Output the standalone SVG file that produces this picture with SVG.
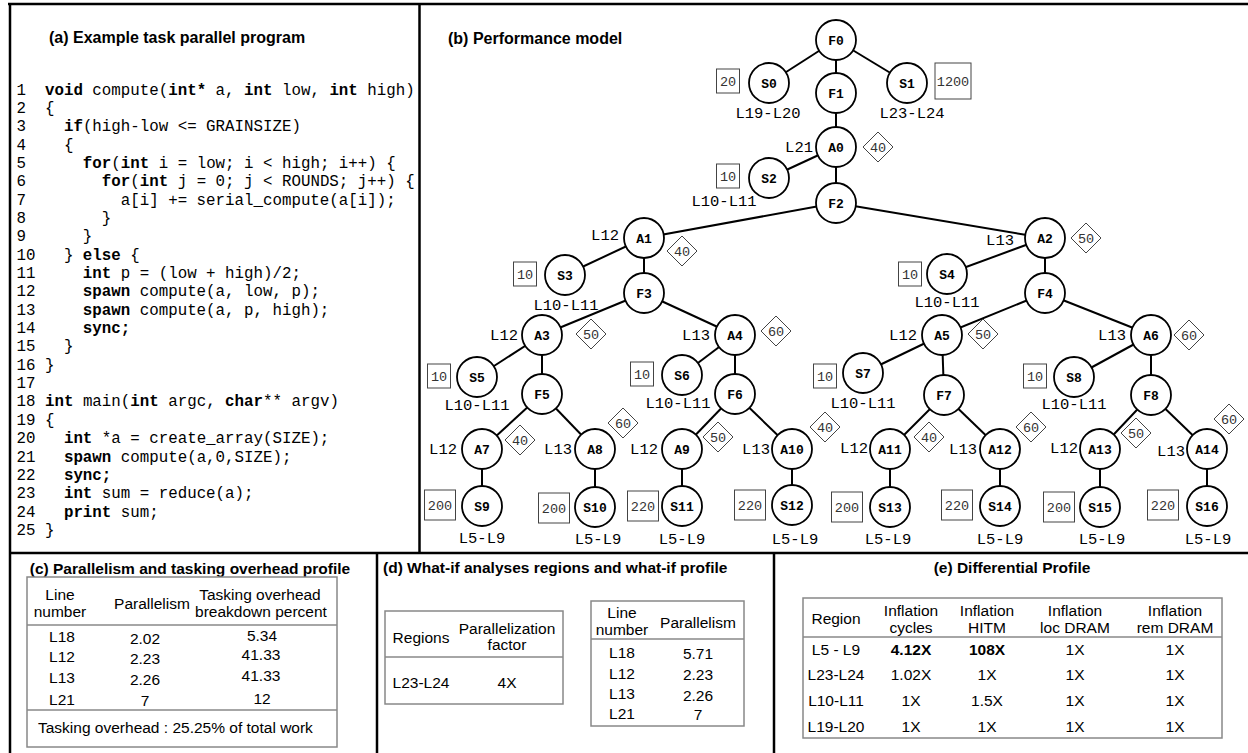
<svg xmlns="http://www.w3.org/2000/svg" width="1248" height="753" viewBox="0 0 1248 753">
<style>
.frame{stroke:#000;stroke-width:2.5;fill:none}
.edge{stroke:#000;stroke-width:2}
.node circle{fill:#fff;stroke:#000;stroke-width:1.8}
.nl{font-family:"Liberation Mono",monospace;font-weight:bold;font-size:13px;text-anchor:middle}
.lbl{font-family:"Liberation Mono",monospace;font-size:15.5px}
.c{text-anchor:middle}
.e{text-anchor:end}
.box{fill:#fff;stroke:#444;stroke-width:1}
.num{font-family:"Liberation Mono",monospace;font-size:13.5px;fill:#333;text-anchor:middle}
.title{font-family:"Liberation Sans",Arial,sans-serif;font-weight:bold;font-size:16px}
.st{font-family:"Liberation Sans",Arial,sans-serif;font-weight:bold;font-size:15.5px}
.code text{font-family:"Liberation Mono",monospace;font-size:15.8px;white-space:pre}
.k{font-weight:bold}
.tbl{fill:none;stroke:#888;stroke-width:1.5}
.tt{font-family:"Liberation Sans",Arial,sans-serif;font-size:15.5px;text-anchor:middle}
.tl{font-family:"Liberation Sans",Arial,sans-serif;font-size:15.5px;text-anchor:start}
</style>
<rect width="1248" height="753" fill="#fff"/>
<g id="frames">
<line class="frame" x1="8" y1="4" x2="1248" y2="4"/>
<line class="frame" x1="10" y1="3" x2="10" y2="753"/>
<line class="frame" x1="419.5" y1="4" x2="419.5" y2="553"/>
<line class="frame" x1="10" y1="553" x2="1248" y2="553"/>
<line class="frame" x1="377" y1="553" x2="377" y2="753"/>
<line class="frame" x1="774" y1="553" x2="774" y2="753"/>
</g>
<g id="panel-a">
<text class="title" x="49" y="43">(a) Example task parallel program</text>
<g class="code">
<text xml:space="preserve" x="16.5" y="94.5">1  <tspan class="k">void</tspan> compute(<tspan class="k">int*</tspan> a, <tspan class="k">int</tspan> low, <tspan class="k">int</tspan> high)</text>
<text xml:space="preserve" x="16.5" y="112.85">2  {</text>
<text xml:space="preserve" x="16.5" y="131.2">3    <tspan class="k">if</tspan>(high-low &lt;= GRAINSIZE)</text>
<text xml:space="preserve" x="16.5" y="149.55">4    {</text>
<text xml:space="preserve" x="16.5" y="167.9">5      <tspan class="k">for</tspan>(<tspan class="k">int</tspan> i = low; i &lt; high; i++) {</text>
<text xml:space="preserve" x="16.5" y="186.25">6        <tspan class="k">for</tspan>(<tspan class="k">int</tspan> j = 0; j &lt; ROUNDS; j++) {</text>
<text xml:space="preserve" x="16.5" y="204.6">7          a[i] += serial_compute(a[i]);</text>
<text xml:space="preserve" x="16.5" y="222.95">8        }</text>
<text xml:space="preserve" x="16.5" y="241.3">9      }</text>
<text xml:space="preserve" x="16.5" y="259.65">10   } <tspan class="k">else</tspan> {</text>
<text xml:space="preserve" x="16.5" y="278">11     <tspan class="k">int</tspan> p = (low + high)/2;</text>
<text xml:space="preserve" x="16.5" y="296.35">12     <tspan class="k">spawn</tspan> compute(a, low, p);</text>
<text xml:space="preserve" x="16.5" y="314.7">13     <tspan class="k">spawn</tspan> compute(a, p, high);</text>
<text xml:space="preserve" x="16.5" y="333.05">14     <tspan class="k">sync;</tspan></text>
<text xml:space="preserve" x="16.5" y="351.4">15   }</text>
<text xml:space="preserve" x="16.5" y="369.75">16 }</text>
<text xml:space="preserve" x="16.5" y="388.1">17</text>
<text xml:space="preserve" x="16.5" y="406.45">18 <tspan class="k">int</tspan> main(<tspan class="k">int</tspan> argc, <tspan class="k">char</tspan>** argv)</text>
<text xml:space="preserve" x="16.5" y="424.8">19 {</text>
<text xml:space="preserve" x="16.5" y="443.15">20   <tspan class="k">int</tspan> *a = create_array(SIZE);</text>
<text xml:space="preserve" x="16.5" y="461.5">21   <tspan class="k">spawn</tspan> compute(a,0,SIZE);</text>
<text xml:space="preserve" x="16.5" y="479.85">22   <tspan class="k">sync;</tspan></text>
<text xml:space="preserve" x="16.5" y="498.2">23   <tspan class="k">int</tspan> sum = reduce(a);</text>
<text xml:space="preserve" x="16.5" y="516.55">24   <tspan class="k">print</tspan> sum;</text>
<text xml:space="preserve" x="16.5" y="534.9">25 }</text>
</g>
</g>
<text class="title" x="448" y="44">(b) Performance model</text>
<g id="connectors">
<line class="edge" x1="836" y1="40" x2="769" y2="83"/>
<line class="edge" x1="836" y1="40" x2="836" y2="93"/>
<line class="edge" x1="836" y1="40" x2="907" y2="83"/>
<line class="edge" x1="836" y1="93" x2="836" y2="147"/>
<line class="edge" x1="836" y1="147" x2="769" y2="178"/>
<line class="edge" x1="836" y1="147" x2="836" y2="203"/>
<line class="edge" x1="836" y1="203" x2="644" y2="238"/>
<line class="edge" x1="836" y1="203" x2="1045" y2="238"/>
<line class="edge" x1="644" y1="238" x2="565" y2="275"/>
<line class="edge" x1="644" y1="238" x2="644" y2="293"/>
<line class="edge" x1="644" y1="293" x2="542" y2="335"/>
<line class="edge" x1="644" y1="293" x2="735" y2="335"/>
<line class="edge" x1="542" y1="335" x2="477" y2="377"/>
<line class="edge" x1="542" y1="335" x2="542" y2="394"/>
<line class="edge" x1="735" y1="335" x2="682" y2="375"/>
<line class="edge" x1="735" y1="335" x2="735" y2="394"/>
<line class="edge" x1="542" y1="394" x2="482" y2="449"/>
<line class="edge" x1="542" y1="394" x2="595" y2="449"/>
<line class="edge" x1="735" y1="394" x2="682" y2="449"/>
<line class="edge" x1="735" y1="394" x2="792" y2="449"/>
<line class="edge" x1="482" y1="449" x2="482" y2="506"/>
<line class="edge" x1="595" y1="449" x2="595" y2="507"/>
<line class="edge" x1="682" y1="449" x2="682" y2="506"/>
<line class="edge" x1="792" y1="449" x2="792" y2="505"/>
<line class="edge" x1="1045" y1="238" x2="947" y2="274"/>
<line class="edge" x1="1045" y1="238" x2="1045" y2="293"/>
<line class="edge" x1="1045" y1="293" x2="942" y2="335"/>
<line class="edge" x1="1045" y1="293" x2="1151" y2="335"/>
<line class="edge" x1="942" y1="335" x2="863" y2="373"/>
<line class="edge" x1="942" y1="335" x2="944" y2="395"/>
<line class="edge" x1="1151" y1="335" x2="1074" y2="377"/>
<line class="edge" x1="1151" y1="335" x2="1151" y2="395"/>
<line class="edge" x1="944" y1="395" x2="890" y2="449"/>
<line class="edge" x1="944" y1="395" x2="1000" y2="449"/>
<line class="edge" x1="1151" y1="395" x2="1100" y2="449"/>
<line class="edge" x1="1151" y1="395" x2="1207" y2="449"/>
<line class="edge" x1="890" y1="449" x2="890" y2="507"/>
<line class="edge" x1="1000" y1="449" x2="1000" y2="506"/>
<line class="edge" x1="1100" y1="449" x2="1100" y2="507"/>
<line class="edge" x1="1207" y1="449" x2="1207" y2="506"/>
</g>
<g id="F0" class="node"><circle cx="836" cy="40" r="20"/><text class="nl" x="836" y="44.5">F0</text></g>
<g id="S0" class="node"><circle cx="769" cy="83" r="20"/><text class="nl" x="769" y="87.5">S0</text><rect class="box" x="716.5" y="69" width="23" height="24"/><text class="num" x="728" y="85.5">20</text><text class="lbl c" x="768" y="117.5">L19-L20</text></g>
<g id="F1" class="node"><circle cx="836" cy="93" r="20"/><text class="nl" x="836" y="97.5">F1</text></g>
<g id="S1" class="node"><circle cx="907" cy="83" r="20"/><text class="nl" x="907" y="87.5">S1</text><rect class="box" x="935" y="63" width="36" height="36"/><text class="num" x="953" y="85.5">1200</text><text class="lbl c" x="912" y="117.5">L23-L24</text></g>
<g id="A0" class="node"><circle cx="836" cy="147" r="20"/><text class="nl" x="836" y="151.5">A0</text><text class="lbl e" x="813" y="152">L21</text><polygon class="box" points="878,132 893,147 878,162 863,147"/><text class="num" x="878" y="151.5">40</text></g>
<g id="S2" class="node"><circle cx="769" cy="178" r="20"/><text class="nl" x="769" y="182.5">S2</text><rect class="box" x="716.5" y="164" width="23" height="24"/><text class="num" x="728" y="180.5">10</text><text class="lbl c" x="724" y="205.5">L10-L11</text></g>
<g id="F2" class="node"><circle cx="836" cy="203" r="20"/><text class="nl" x="836" y="207.5">F2</text></g>
<g id="A1" class="node"><circle cx="644" cy="238" r="20"/><text class="nl" x="644" y="242.5">A1</text><text class="lbl e" x="619" y="240">L12</text><polygon class="box" points="682,236 697,251 682,266 667,251"/><text class="num" x="682" y="255.5">40</text></g>
<g id="A2" class="node"><circle cx="1045" cy="238" r="20"/><text class="nl" x="1045" y="242.5">A2</text><text class="lbl e" x="1014" y="245">L13</text><polygon class="box" points="1086,223 1101,238 1086,253 1071,238"/><text class="num" x="1086" y="242.5">50</text></g>
<g id="S3" class="node"><circle cx="565" cy="275" r="20"/><text class="nl" x="565" y="279.5">S3</text><rect class="box" x="513.5" y="262" width="23" height="24"/><text class="num" x="525" y="278.5">10</text><text class="lbl c" x="566" y="309.5">L10-L11</text></g>
<g id="F3" class="node"><circle cx="644" cy="293" r="20"/><text class="nl" x="644" y="297.5">F3</text></g>
<g id="S4" class="node"><circle cx="947" cy="274" r="20"/><text class="nl" x="947" y="278.5">S4</text><rect class="box" x="898.5" y="262" width="23" height="24"/><text class="num" x="910" y="278.5">10</text><text class="lbl c" x="947" y="306.5">L10-L11</text></g>
<g id="F4" class="node"><circle cx="1045" cy="293" r="20"/><text class="nl" x="1045" y="297.5">F4</text></g>
<g id="A3" class="node"><circle cx="542" cy="335" r="20"/><text class="nl" x="542" y="339.5">A3</text><text class="lbl e" x="518" y="339.5">L12</text><polygon class="box" points="591,319 606,334 591,349 576,334"/><text class="num" x="591" y="338.5">50</text></g>
<g id="A4" class="node"><circle cx="735" cy="335" r="20"/><text class="nl" x="735" y="339.5">A4</text><text class="lbl e" x="710" y="340">L13</text><polygon class="box" points="776,316 791,331 776,346 761,331"/><text class="num" x="776" y="335.5">60</text></g>
<g id="A5" class="node"><circle cx="942" cy="335" r="20"/><text class="nl" x="942" y="339.5">A5</text><text class="lbl e" x="917" y="340">L12</text><polygon class="box" points="983,319 998,334 983,349 968,334"/><text class="num" x="983" y="338.5">50</text></g>
<g id="A6" class="node"><circle cx="1151" cy="335" r="20"/><text class="nl" x="1151" y="339.5">A6</text><text class="lbl e" x="1126" y="340">L13</text><polygon class="box" points="1189,320 1204,335 1189,350 1174,335"/><text class="num" x="1189" y="339.5">60</text></g>
<g id="S5" class="node"><circle cx="477" cy="377" r="20"/><text class="nl" x="477" y="381.5">S5</text><rect class="box" x="427.5" y="364" width="23" height="24"/><text class="num" x="439" y="380.5">10</text><text class="lbl c" x="477" y="409.5">L10-L11</text></g>
<g id="F5" class="node"><circle cx="542" cy="394" r="20"/><text class="nl" x="542" y="398.5">F5</text></g>
<g id="S6" class="node"><circle cx="682" cy="375" r="20"/><text class="nl" x="682" y="379.5">S6</text><rect class="box" x="630.5" y="362" width="23" height="24"/><text class="num" x="642" y="378.5">10</text><text class="lbl c" x="678" y="407.5">L10-L11</text></g>
<g id="F6" class="node"><circle cx="735" cy="394" r="20"/><text class="nl" x="735" y="398.5">F6</text></g>
<g id="S7" class="node"><circle cx="863" cy="373" r="20"/><text class="nl" x="863" y="377.5">S7</text><rect class="box" x="813.5" y="364" width="23" height="24"/><text class="num" x="825" y="380.5">10</text><text class="lbl c" x="863" y="407.5">L10-L11</text></g>
<g id="F7" class="node"><circle cx="944" cy="395" r="20"/><text class="nl" x="944" y="399.5">F7</text></g>
<g id="S8" class="node"><circle cx="1074" cy="377" r="20"/><text class="nl" x="1074" y="381.5">S8</text><rect class="box" x="1023.5" y="364" width="23" height="24"/><text class="num" x="1035" y="380.5">10</text><text class="lbl c" x="1074" y="408.5">L10-L11</text></g>
<g id="F8" class="node"><circle cx="1151" cy="395" r="20"/><text class="nl" x="1151" y="399.5">F8</text></g>
<g id="A7" class="node"><circle cx="482" cy="449" r="20"/><text class="nl" x="482" y="453.5">A7</text><text class="lbl e" x="457" y="454">L12</text><polygon class="box" points="520,425 535,440 520,455 505,440"/><text class="num" x="520" y="444.5">40</text></g>
<g id="A8" class="node"><circle cx="595" cy="449" r="20"/><text class="nl" x="595" y="453.5">A8</text><text class="lbl e" x="572" y="454">L13</text><polygon class="box" points="623,408 638,423 623,438 608,423"/><text class="num" x="623" y="427.5">60</text></g>
<g id="A9" class="node"><circle cx="682" cy="449" r="20"/><text class="nl" x="682" y="453.5">A9</text><text class="lbl e" x="658" y="454">L12</text><polygon class="box" points="718,422 733,437 718,452 703,437"/><text class="num" x="718" y="441.5">50</text></g>
<g id="A10" class="node"><circle cx="792" cy="449" r="20"/><text class="nl" x="792" y="453.5">A10</text><text class="lbl e" x="770" y="454">L13</text><polygon class="box" points="825,412 840,427 825,442 810,427"/><text class="num" x="825" y="431.5">40</text></g>
<g id="A11" class="node"><circle cx="890" cy="449" r="20"/><text class="nl" x="890" y="453.5">A11</text><text class="lbl e" x="868" y="453">L12</text><polygon class="box" points="929,422 944,437 929,452 914,437"/><text class="num" x="929" y="441.5">40</text></g>
<g id="A12" class="node"><circle cx="1000" cy="449" r="20"/><text class="nl" x="1000" y="453.5">A12</text><text class="lbl e" x="977" y="454">L13</text><polygon class="box" points="1031,412 1046,427 1031,442 1016,427"/><text class="num" x="1031" y="431.5">60</text></g>
<g id="A13" class="node"><circle cx="1100" cy="449" r="20"/><text class="nl" x="1100" y="453.5">A13</text><text class="lbl e" x="1078" y="453">L12</text><polygon class="box" points="1136,418 1151,433 1136,448 1121,433"/><text class="num" x="1136" y="437.5">50</text></g>
<g id="A14" class="node"><circle cx="1207" cy="449" r="20"/><text class="nl" x="1207" y="453.5">A14</text><text class="lbl e" x="1185" y="456">L13</text><polygon class="box" points="1229,404 1244,419 1229,434 1214,419"/><text class="num" x="1229" y="423.5">60</text></g>
<g id="S9" class="node"><circle cx="482" cy="506" r="20"/><text class="nl" x="482" y="510.5">S9</text><rect class="box" x="424.5" y="490" width="31" height="30"/><text class="num" x="440" y="509.5">200</text><text class="lbl c" x="482" y="542.5">L5-L9</text></g>
<g id="S10" class="node"><circle cx="595" cy="507" r="20"/><text class="nl" x="595" y="511.5">S10</text><rect class="box" x="538.5" y="493" width="31" height="30"/><text class="num" x="554" y="512.5">200</text><text class="lbl c" x="598" y="543.5">L5-L9</text></g>
<g id="S11" class="node"><circle cx="682" cy="506" r="20"/><text class="nl" x="682" y="510.5">S11</text><rect class="box" x="627.5" y="491" width="31" height="30"/><text class="num" x="643" y="510.5">220</text><text class="lbl c" x="682" y="543.5">L5-L9</text></g>
<g id="S12" class="node"><circle cx="792" cy="505" r="20"/><text class="nl" x="792" y="509.5">S12</text><rect class="box" x="734.5" y="490" width="31" height="30"/><text class="num" x="750" y="509.5">220</text><text class="lbl c" x="795" y="543.5">L5-L9</text></g>
<g id="S13" class="node"><circle cx="890" cy="507" r="20"/><text class="nl" x="890" y="511.5">S13</text><rect class="box" x="831.5" y="492" width="31" height="30"/><text class="num" x="847" y="511.5">200</text><text class="lbl c" x="888" y="543.5">L5-L9</text></g>
<g id="S14" class="node"><circle cx="1000" cy="506" r="20"/><text class="nl" x="1000" y="510.5">S14</text><rect class="box" x="941.5" y="490" width="31" height="30"/><text class="num" x="957" y="509.5">220</text><text class="lbl c" x="1000" y="543.5">L5-L9</text></g>
<g id="S15" class="node"><circle cx="1100" cy="507" r="20"/><text class="nl" x="1100" y="511.5">S15</text><rect class="box" x="1043.5" y="492" width="31" height="30"/><text class="num" x="1059" y="511.5">200</text><text class="lbl c" x="1102" y="543.5">L5-L9</text></g>
<g id="S16" class="node"><circle cx="1207" cy="506" r="20"/><text class="nl" x="1207" y="510.5">S16</text><rect class="box" x="1147.5" y="490" width="31" height="30"/><text class="num" x="1163" y="509.5">220</text><text class="lbl c" x="1208" y="543.5">L5-L9</text></g>
<g id="panel-c">
<text class="st" x="190" y="573.5" text-anchor="middle">(c) Parallelism and tasking overhead profile</text>
<rect class="tbl" x="27" y="577" width="310" height="170"/>
<line class="tbl" x1="27" y1="625" x2="337" y2="625"/>
<line class="tbl" x1="27" y1="710" x2="337" y2="710"/>
<text class="tt" x="60" y="599.5">Line</text>
<text class="tt" x="60" y="616.5">number</text>
<text class="tt" x="152" y="608.5">Parallelism</text>
<text class="tt" x="260" y="599.5">Tasking overhead</text>
<text class="tt" x="261" y="616.5">breakdown percent</text>
<text class="tt" x="62" y="642">L18</text><text class="tt" x="145" y="644">2.02</text><text class="tt" x="262" y="641">5.34</text>
<text class="tt" x="62" y="661.5">L12</text><text class="tt" x="145" y="664">2.23</text><text class="tt" x="261" y="660">41.33</text>
<text class="tt" x="62" y="683">L13</text><text class="tt" x="145" y="684.5">2.26</text><text class="tt" x="261" y="680.5">41.33</text>
<text class="tt" x="62" y="705">L21</text><text class="tt" x="145" y="705.5">7</text><text class="tt" x="262" y="704">12</text>
<text class="tl" x="38" y="732.5">Tasking overhead : 25.25% of total work</text>
</g>
<g id="panel-d">
<text class="st" x="383" y="572.5">(d) What-if analyses regions and what-if profile</text>
<rect class="tbl" x="385" y="611" width="178" height="93"/>
<line class="tbl" x1="385" y1="657" x2="563" y2="657"/>
<text class="tt" x="421" y="642.5">Regions</text>
<text class="tt" x="507" y="633.5">Parallelization</text>
<text class="tt" x="507" y="649.5">factor</text>
<text class="tt" x="421" y="687.5">L23-L24</text>
<text class="tt" x="507" y="687.5">4X</text>
<rect class="tbl" x="591" y="601" width="153" height="125"/>
<line class="tbl" x1="591" y1="639" x2="744" y2="639"/>
<text class="tt" x="622" y="617.5">Line</text>
<text class="tt" x="622" y="634.5">number</text>
<text class="tt" x="698" y="627.5">Parallelism</text>
<text class="tt" x="622" y="657.5">L18</text><text class="tt" x="698" y="658.5">5.71</text>
<text class="tt" x="622" y="678.5">L12</text><text class="tt" x="698" y="679.5">2.23</text>
<text class="tt" x="622" y="698.5">L13</text><text class="tt" x="698" y="700.5">2.26</text>
<text class="tt" x="622" y="718.5">L21</text><text class="tt" x="698" y="719.5">7</text>
</g>
<g id="panel-e">
<text class="st" x="1012" y="572.5" text-anchor="middle">(e) Differential Profile</text>
<rect class="tbl" x="803" y="598" width="419" height="140"/>
<line class="tbl" x1="803" y1="637" x2="1222" y2="637"/>
<text class="tt" x="836" y="623.5">Region</text>
<text class="tt" x="911" y="615.5">Inflation</text><text class="tt" x="911" y="632.5">cycles</text>
<text class="tt" x="987" y="615.5">Inflation</text><text class="tt" x="987" y="632.5">HITM</text>
<text class="tt" x="1075" y="615.5">Inflation</text><text class="tt" x="1075" y="632.5">loc DRAM</text>
<text class="tt" x="1175" y="615.5">Inflation</text><text class="tt" x="1175" y="632.5">rem DRAM</text>
<text class="tt" x="836" y="654.5">L5 - L9</text><text class="tt" x="911" y="654.5" font-weight="bold">4.12X</text><text class="tt" x="987" y="654.5" font-weight="bold">108X</text><text class="tt" x="1075" y="654.5">1X</text><text class="tt" x="1175" y="654.5">1X</text>
<text class="tt" x="836" y="679.5">L23-L24</text><text class="tt" x="911" y="679.5">1.02X</text><text class="tt" x="987" y="679.5">1X</text><text class="tt" x="1075" y="679.5">1X</text><text class="tt" x="1175" y="679.5">1X</text>
<text class="tt" x="836" y="705.5">L10-L11</text><text class="tt" x="911" y="705.5">1X</text><text class="tt" x="987" y="705.5">1.5X</text><text class="tt" x="1075" y="705.5">1X</text><text class="tt" x="1175" y="705.5">1X</text>
<text class="tt" x="836" y="731.5">L19-L20</text><text class="tt" x="911" y="731.5">1X</text><text class="tt" x="987" y="731.5">1X</text><text class="tt" x="1075" y="731.5">1X</text><text class="tt" x="1175" y="731.5">1X</text>
</g>
</svg>
